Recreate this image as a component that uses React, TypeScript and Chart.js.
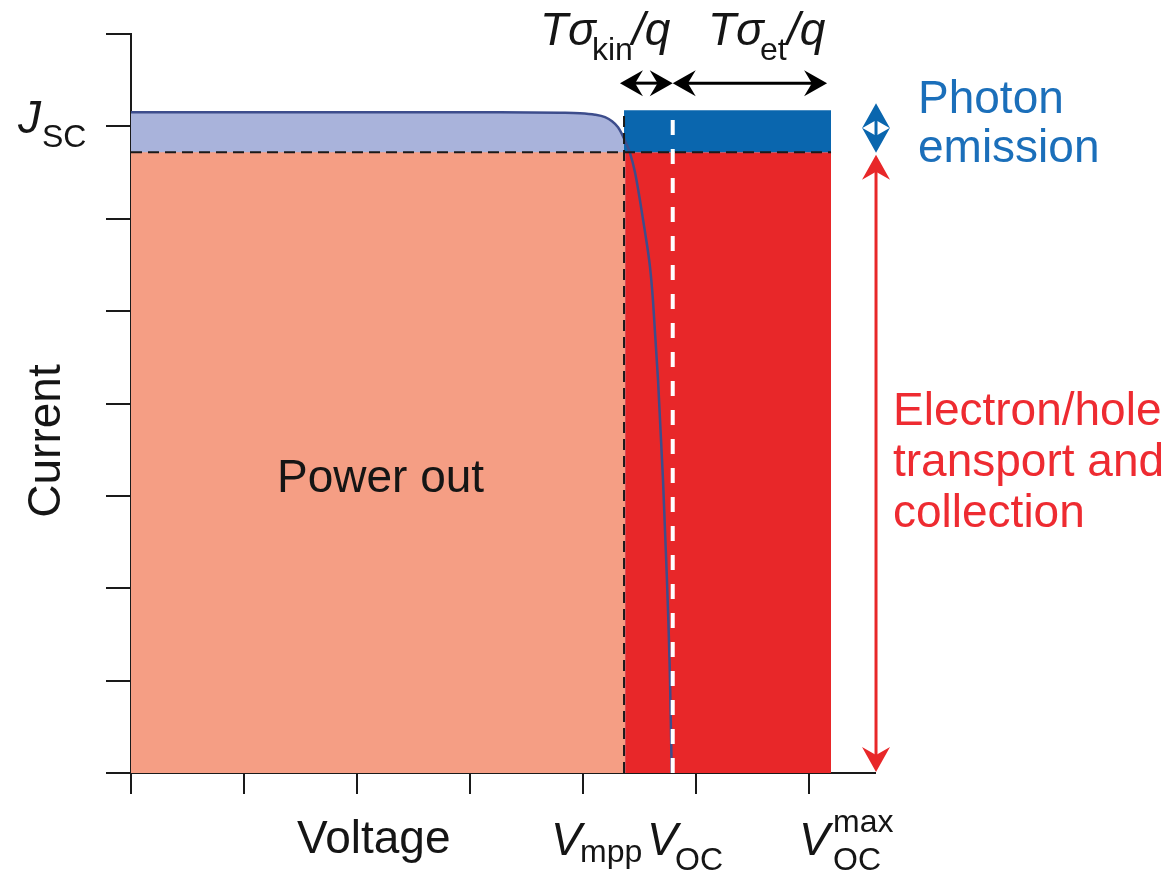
import React, { useEffect, useRef } from "react";
import { Chart, registerables } from "chart.js";

Chart.register(...registerables);

// ---- data (axis units: voltage ticks 0..6, current ticks 0..8) ----
const curveV = [0, 3.265, 3.796, 3.973, 4.106, 4.195, 4.257, 4.31, 4.345, 4.381, 4.416, 4.46, 4.504, 4.549, 4.593, 4.619, 4.664, 4.708, 4.743, 4.77, 4.785];
const curveJ = [7.154, 7.154, 7.148, 7.143, 7.127, 7.1, 7.056, 6.991, 6.916, 6.818, 6.71, 6.504, 6.201, 5.855, 5.476, 5.119, 4.253, 3.171, 2.089, 1.006, 0];
const xTicks = [0, 1, 2, 3, 4, 5, 6];
const yTicks = [0, 1, 2, 3, 4, 5, 6, 7, 8];
const X_MAX = 6.584;
const Y_MAX = 8;
const V_MPP = 4.363;
const J_MPP = 6.72;
const V_OC = 4.794;
const V_OC_MAX = 6.195;
const J_TOP = 7.175;
const ARROW_Y = 7.468;
const ARROW_KIN_START = 4.327;
const ARROW_ET_END = 6.16;
const SIDE_ARROW_X = 6.593;
const PHOTON_TOP = 7.25;
const SIDE_SPLIT = 6.715;
const COLLECT_BOTTOM = 0.012;

const C_SALMON = "#f59e84";
const C_LAV = "#a9b3db";
const C_BLUE = "#0a66ae";
const C_RED = "#e82729";
const C_CURVE = "#3d4d8c";
const C_TEXT = "#151515";
const C_BLUE_TEXT = "#1b6fba";
const C_RED_TEXT = "#ee2b31";

const FONT = '"Liberation Sans", Arial, Helvetica, sans-serif';

function arrowHead(ctx: CanvasRenderingContext2D, tx: number, ty: number, dx: number, dy: number, L: number, W: number, notch: number) {
  const bx = tx - dx * L, by = ty - dy * L;
  const px = -dy, py = dx;
  ctx.beginPath();
  ctx.moveTo(tx, ty);
  ctx.lineTo(bx + px * W, by + py * W);
  ctx.lineTo(tx - dx * L * notch, ty - dy * L * notch);
  ctx.lineTo(bx - px * W, by - py * W);
  ctx.closePath();
  ctx.fill();
}

function doubleArrowH(ctx: CanvasRenderingContext2D, x1: number, x2: number, y: number, color: string, L: number, W: number, lw: number) {
  ctx.save();
  ctx.strokeStyle = color;
  ctx.fillStyle = color;
  ctx.lineWidth = lw;
  ctx.beginPath();
  ctx.moveTo(x1 + L * 0.6, y);
  ctx.lineTo(x2 - L * 0.6, y);
  ctx.stroke();
  arrowHead(ctx, x1, y, -1, 0, L, W, 0.66);
  arrowHead(ctx, x2, y, 1, 0, L, W, 0.66);
  ctx.restore();
}

function doubleArrowV(ctx: CanvasRenderingContext2D, x: number, y1: number, y2: number, color: string, L: number, W: number, lw: number) {
  ctx.save();
  ctx.strokeStyle = color;
  ctx.fillStyle = color;
  ctx.lineWidth = lw;
  ctx.beginPath();
  ctx.moveTo(x, y1 + L * 0.6);
  ctx.lineTo(x, y2 - L * 0.6);
  ctx.stroke();
  arrowHead(ctx, x, y1, 0, -1, L, W, 0.68);
  arrowHead(ctx, x, y2, 0, 1, L, W, 0.68);
  ctx.restore();
}

function txt(ctx: CanvasRenderingContext2D, s: string, x: number, y: number, size: number, color: string, italic = false) {
  ctx.font = `${italic ? "italic " : ""}${size}px ${FONT}`;
  ctx.fillStyle = color;
  ctx.textAlign = "left";
  ctx.textBaseline = "alphabetic";
  ctx.fillText(s, x, y);
}

const annotations = {
  id: "annotations",
  afterDraw(chart: any) {
    const ctx: CanvasRenderingContext2D = chart.ctx;
    const xs = chart.scales.x;
    const ys = chart.scales.y;
    const px = (v: number) => xs.getPixelForValue(v);
    const py = (v: number) => ys.getPixelForValue(v);
    ctx.save();

    // arrows
    const ay = py(ARROW_Y);
    doubleArrowH(ctx, px(ARROW_KIN_START), px(V_OC), ay, "#000", 23, 13, 3);
    doubleArrowH(ctx, px(V_OC), px(ARROW_ET_END), ay, "#000", 23, 13, 3);
    doubleArrowV(ctx, px(SIDE_ARROW_X), py(PHOTON_TOP), py(SIDE_SPLIT), C_BLUE, 25, 14, 3);
    doubleArrowV(ctx, px(SIDE_ARROW_X), py(SIDE_SPLIT) + 2, py(COLLECT_BOTTOM), C_RED, 25, 14, 3);

    // y tick label J_SC
    txt(ctx, "J", 18, 133, 46, C_TEXT, true);
    txt(ctx, "SC", 42, 147, 32, C_TEXT);

    // axis title Current
    ctx.save();
    ctx.translate(60, 441);
    ctx.rotate(-Math.PI / 2);
    ctx.font = `46px ${FONT}`;
    ctx.fillStyle = C_TEXT;
    ctx.textAlign = "center";
    ctx.textBaseline = "alphabetic";
    ctx.fillText("Current", 0, 0);
    ctx.restore();

    // x labels
    txt(ctx, "Voltage", 297, 853, 46, C_TEXT);
    txt(ctx, "V", 551, 855, 46, C_TEXT, true);
    txt(ctx, "mpp", 580, 862, 32, C_TEXT);
    txt(ctx, "V", 647, 855, 46, C_TEXT, true);
    txt(ctx, "OC", 675, 870, 32, C_TEXT);
    txt(ctx, "V", 799, 855, 46, C_TEXT, true);
    txt(ctx, "max", 833, 832, 32, C_TEXT);
    txt(ctx, "OC", 833, 870, 32, C_TEXT);

    // in-plot label
    txt(ctx, "Power out", 277, 492, 46, C_TEXT);

    // top labels
    txt(ctx, "T\u03c3", 540, 45, 46, C_TEXT, true);
    txt(ctx, "kin", 592, 60, 32, C_TEXT);
    txt(ctx, "/q", 632, 45, 46, C_TEXT, true);
    txt(ctx, "T\u03c3", 708, 45, 46, C_TEXT, true);
    txt(ctx, "et", 760, 60, 32, C_TEXT);
    txt(ctx, "/q", 787, 45, 46, C_TEXT, true);

    // right labels
    txt(ctx, "Photon", 918, 113, 46, C_BLUE_TEXT);
    txt(ctx, "emission", 918, 162, 46, C_BLUE_TEXT);
    txt(ctx, "Electron/hole", 893, 425, 46, C_RED_TEXT);
    txt(ctx, "transport and", 893, 476, 46, C_RED_TEXT);
    txt(ctx, "collection", 893, 527, 46, C_RED_TEXT);

    ctx.restore();
  },
};

export default function App() {
  const ref = useRef<HTMLCanvasElement | null>(null);

  useEffect(() => {
    if (!ref.current) return;
    Chart.defaults.font.family = FONT;
    const curve = curveV.map((v, i) => ({ x: v, y: curveJ[i] }));
    const chart = new Chart(ref.current, {
      type: "line",
      data: {
        datasets: [
          {
            label: "white Voc",
            data: [{ x: V_OC, y: 0 }, { x: V_OC, y: J_TOP }],
            borderColor: "#ffffff",
            borderWidth: 4,
            borderDash: [15, 14],
            pointRadius: 0,
            fill: false,
            order: 1,
          },
          {
            label: "mpp horizontal",
            data: [{ x: 0, y: J_MPP }, { x: V_OC_MAX, y: J_MPP }],
            borderColor: "#1a1a1a",
            borderWidth: 2,
            borderDash: [11, 6],
            pointRadius: 0,
            fill: false,
            order: 2,
          },
          {
            label: "mpp vertical",
            data: [{ x: V_MPP, y: 0 }, { x: V_MPP, y: J_TOP }],
            borderColor: "#1a1a1a",
            borderWidth: 2,
            borderDash: [11, 6],
            pointRadius: 0,
            fill: false,
            order: 3,
          },
          {
            label: "IV curve",
            data: curve,
            borderColor: C_CURVE,
            borderWidth: 2.5,
            pointRadius: 0,
            cubicInterpolationMode: "monotone",
            fill: false,
            order: 4,
          },
          {
            label: "photon loss",
            data: [{ x: V_MPP, y: J_TOP }, { x: V_OC_MAX, y: J_TOP }],
            borderWidth: 0,
            borderColor: C_BLUE,
            backgroundColor: C_BLUE,
            pointRadius: 0,
            fill: { value: J_MPP },
            order: 5,
          },
          {
            label: "transport loss",
            data: [{ x: V_MPP + 0.01, y: J_MPP }, { x: V_OC_MAX, y: J_MPP }],
            borderWidth: 0,
            borderColor: C_RED,
            backgroundColor: C_RED,
            pointRadius: 0,
            fill: "origin",
            order: 6,
          },
          {
            label: "power out",
            data: [{ x: 0, y: J_MPP }, { x: V_MPP + 0.01, y: J_MPP }],
            borderWidth: 0,
            borderColor: C_SALMON,
            backgroundColor: C_SALMON,
            pointRadius: 0,
            fill: "origin",
            order: 7,
          },
          {
            label: "under curve",
            data: curve,
            borderWidth: 0,
            borderColor: C_LAV,
            backgroundColor: C_LAV,
            pointRadius: 0,
            cubicInterpolationMode: "monotone",
            fill: "origin",
            order: 8,
          },
        ],
      },
      options: {
        responsive: false,
        animation: false,
        events: [],
        layout: { padding: { top: 34, right: 300, left: 0, bottom: 0 } },
        plugins: { legend: { display: false }, tooltip: { enabled: false } },
        scales: {
          x: {
            type: "linear",
            min: 0,
            max: X_MAX,
            afterBuildTicks: (s: any) => {
              s.ticks = xTicks.map((v) => ({ value: v }));
            },
            afterFit: (s: any) => {
              s.height = 107;
            },
            ticks: { display: false },
            grid: { drawOnChartArea: false, drawTicks: true, tickLength: 21, color: "#1a1a1a", lineWidth: 2 },
            border: { display: true, color: "#1a1a1a", width: 2 },
          },
          y: {
            type: "linear",
            min: 0,
            max: Y_MAX,
            afterBuildTicks: (s: any) => {
              s.ticks = yTicks.map((v) => ({ value: v }));
            },
            afterFit: (s: any) => {
              s.width = 131;
            },
            ticks: { display: false },
            grid: { drawOnChartArea: false, drawTicks: true, tickLength: 25, color: "#1a1a1a", lineWidth: 2 },
            border: { display: true, color: "#1a1a1a", width: 2 },
          },
        },
      } as any,
      plugins: [annotations],
    });
    return () => chart.destroy();
  }, []);

  return (
    <div style={{ position: "fixed", left: 0, top: 0, width: 1175, height: 880, background: "#fff" }}>
      <canvas ref={ref} width={1175} height={880} style={{ display: "block", width: 1175, height: 880 }} />
    </div>
  );
}
